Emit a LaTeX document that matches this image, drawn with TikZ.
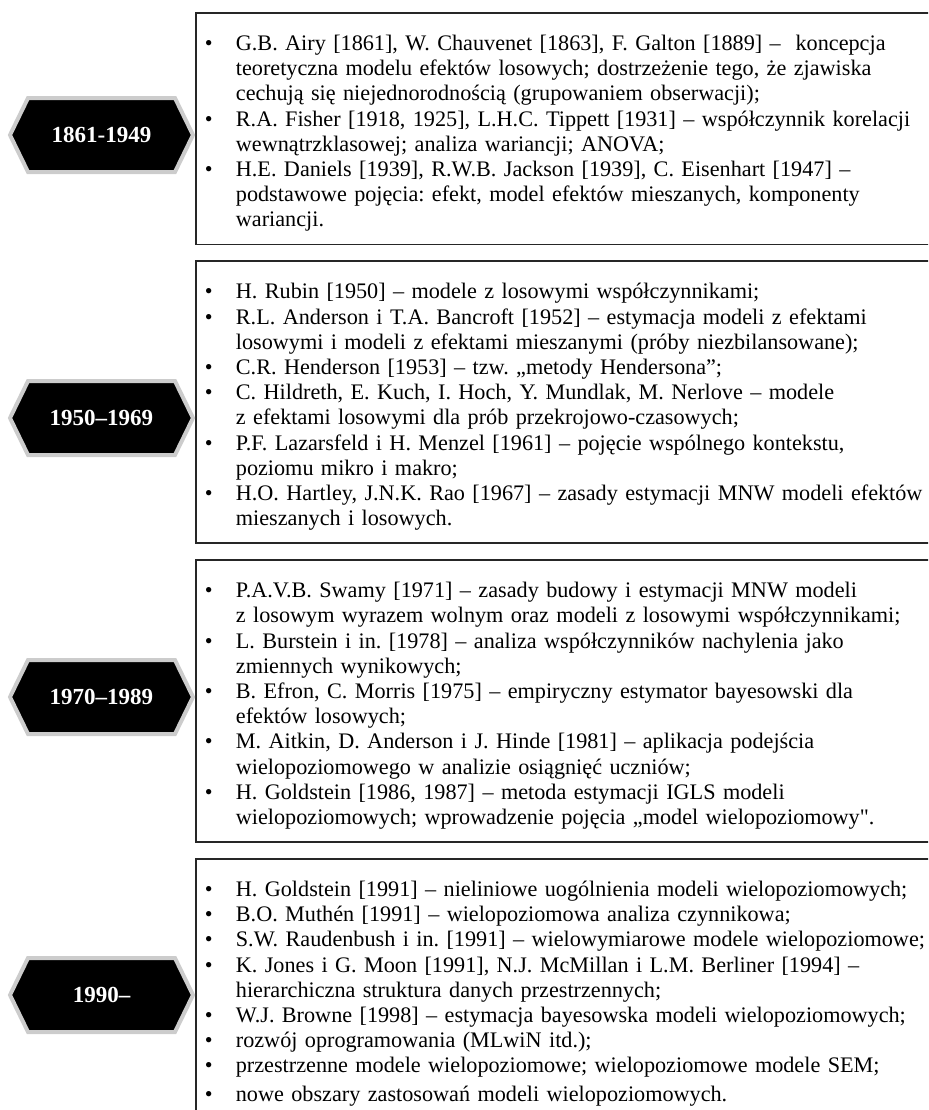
\documentclass[tikz,border=0pt]{standalone}
\usepackage{fontspec}
\setmainfont{Liberation Serif}
\usepackage{tikz}
\usetikzlibrary
  {
    positioning,              % place nodes relative to other nodes
    shapes.symbols,           % signal shape for the period labels
  }
\frenchspacing

\begin{document}
\begin{tikzpicture}
    [
      x=0.5pt, y=-0.5pt,
      node distance=7.5pt,
      period/.style=
        {
          signal,
          signal to=west and east,
          signal pointer angle=128,
          minimum width=91.5pt,
          minimum height=37pt,
          line width=2pt,
          draw=black!20,
          fill=black,
          text=white,
          font=\fontsize{11.5}{13}\selectfont\bfseries,
        },
      events/.style=
        {
          rectangle,
          draw=black!85,
          line width=0.9pt,
          text width=380pt,
          align=left,
          inner xsep=4.5pt,
          inner ysep=5pt,
          anchor=north west,
          font=\fontsize{11.1}{12.6}\selectfont,
        }
    ]
    \useasboundingbox (0,0) rectangle (928,1110);
    \clip (0,0) rectangle (928,1110);

    % lists of events
    \node (list1) [events] at (195,12)
      {\begin{tabular}{@{}p{15.5pt}@{}l@{}}
        \noalign{\vskip 5pt}
        \textbullet & G.B. Airy [1861], W. Chauvenet [1863], F. Galton [1889] – \ koncepcja \\
                    & teoretyczna modelu efektów losowych; dostrzeżenie tego, że zjawiska \\
                    & cechują się niejednorodnością (grupowaniem obserwacji); \\
        \textbullet & R.A. Fisher [1918, 1925], L.H.C. Tippett [1931] – współczynnik korelacji \\
                    & wewnątrzklasowej; analiza wariancji; ANOVA; \\
        \textbullet & H.E. Daniels [1939], R.W.B. Jackson [1939], C. Eisenhart [1947] – \\
                    & podstawowe pojęcia: efekt, model efektów mieszanych, komponenty \\
                    & wariancji.
      \end{tabular}};
    \node (list2) [below=of list1.south west, events]
      {\begin{tabular}{@{}p{15.5pt}@{}l@{}}
        \noalign{\vskip 5pt}
        \textbullet & H. Rubin [1950] – modele z losowymi współczynnikami; \\
        \textbullet & R.L. Anderson i T.A. Bancroft [1952] – estymacja modeli z efektami \\
                    & losowymi i modeli z efektami mieszanymi (próby niezbilansowane); \\
        \textbullet & C.R. Henderson [1953] – tzw. „metody Hendersona”; \\
        \textbullet & C. Hildreth, E. Kuch, I. Hoch, Y. Mundlak, M. Nerlove – modele \\
                    & z efektami losowymi dla prób przekrojowo-czasowych; \\
        \textbullet & P.F. Lazarsfeld i H. Menzel [1961] – pojęcie wspólnego kontekstu, \\
                    & poziomu mikro i makro; \\
        \textbullet & H.O. Hartley, J.N.K. Rao [1967] – zasady estymacji MNW modeli efektów \\
                    & mieszanych i losowych.
      \end{tabular}};
    \node (list3) [below=of list2.south west, events]
      {\begin{tabular}{@{}p{15.5pt}@{}l@{}}
        \noalign{\vskip 5pt}
        \textbullet & P.A.V.B. Swamy [1971] – zasady budowy i estymacji MNW modeli \\
                    & z losowym wyrazem wolnym oraz modeli z losowymi współczynnikami; \\
        \textbullet & L. Burstein i in. [1978] – analiza współczynników nachylenia jako \\
                    & zmiennych wynikowych; \\
        \textbullet & B. Efron, C. Morris [1975] – empiryczny estymator bayesowski dla \\
                    & efektów losowych; \\
        \textbullet & M. Aitkin, D. Anderson i J. Hinde [1981] – aplikacja podejścia \\
                    & wielopoziomowego w analizie osiągnięć uczniów; \\
        \textbullet & H. Goldstein [1986, 1987] – metoda estymacji IGLS modeli \\
                    & wielopoziomowych; wprowadzenie pojęcia „model wielopoziomowy\textquotedbl.
      \end{tabular}};
    \node (list4) [below=of list3.south west, events]
      {\begin{tabular}{@{}p{15.5pt}@{}l@{}}
        \noalign{\vskip 5pt}
        \textbullet & H. Goldstein [1991] – nieliniowe uogólnienia modeli wielopoziomowych; \\
        \textbullet & B.O. Muthén [1991] – wielopoziomowa analiza czynnikowa; \\
        \textbullet & S.W. Raudenbush i in. [1991] – wielowymiarowe modele wielopoziomowe; \\
        \textbullet & K. Jones i G. Moon [1991], N.J. McMillan i L.M. Berliner [1994] – \\
                    & hierarchiczna struktura danych przestrzennych; \\
        \textbullet & W.J. Browne [1998] – estymacja bayesowska modeli wielopoziomowych; \\
        \textbullet & rozwój oprogramowania (MLwiN itd.); \\
        \textbullet & przestrzenne modele wielopoziomowe; wielopoziomowe modele SEM; \\[1.5pt]
        \textbullet & nowe obszary zastosowań modeli wielopoziomowych. \\
        \noalign{\vskip 30pt}
      \end{tabular}};

    % period labels
    \node (era1) [period] at (101.5,135) {1861-1949};
    \node (era2) [period] at (101.5,418) {1950–1969};
    \node (era3) [period] at (101.5,697) {1970–1989};
    \node (era4) [period] at (101.5,995) {1990–};
\end{tikzpicture}
\end{document}
